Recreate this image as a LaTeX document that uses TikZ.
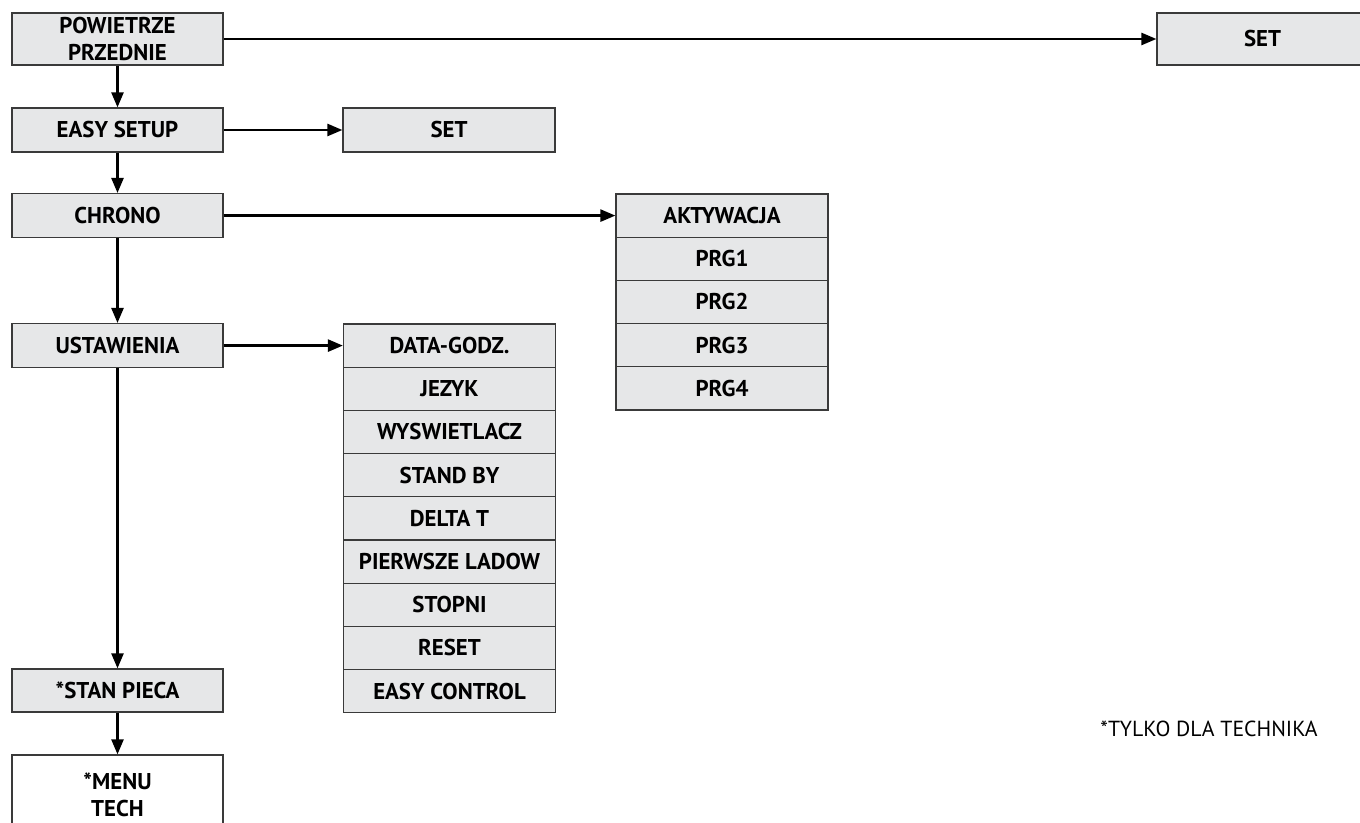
\documentclass[tikz,border=0pt]{standalone}
\usepackage{fontspec}
\setmainfont{PT Sans}
\usepackage{xcolor}
\usepackage{tikz}
\usetikzlibrary{shapes,arrows,calc}
\usetikzlibrary{arrows.meta}
\definecolor{boxgray}{HTML}{E6E7E8}
\definecolor{edgegray}{HTML}{3A3A3A}
\tikzstyle{tsBold} = [ 
    text=black, 
    font=\bfseries\fontsize{13}{15.2}\selectfont
]
\tikzstyle{tsWraptext} = [ 
    tsBold, 
    text centered, 
    align=center
]
\tikzstyle{tsRectangle} = [ 
    rectangle,
    tsWraptext,
    draw=edgegray,
    line width=0.7pt,
    inner sep=0pt]
\tikzstyle{tsMenu} = [ 
    tsRectangle,
    minimum width=4.22cm,
    fill=boxgray]
\tikzstyle{tsRow} = [ 
    tsRectangle,
    minimum width=4.24cm,
    minimum height=0.864cm,
    fill=boxgray]
\tikzstyle{tsArrow} = [ 
    line width=1.4pt,
    -{Triangle[length=0.3cm,width=0.24cm]}
]

\begin{document}
\begin{tikzpicture}
        
     	\useasboundingbox (0,0) rectangle (27.2,16.46);
     	
     	% left column
     	\node[ tsMenu, minimum height=1.04cm] (powietrze) at (2.35,15.68) {POWIETRZE\\PRZEDNIE};
     	\node[ tsMenu, minimum height=0.88cm] (easysetup) at (2.35,13.86) {EASY SETUP};
     	\node[ tsMenu, minimum height=0.88cm] (chrono) at (2.35,12.148) {CHRONO};
     	\node[ tsMenu, minimum height=0.88cm] (ustawienia) at (2.35,9.548) {USTAWIENIA};
     	\node[ tsMenu, minimum height=0.86cm] (stanpieca) at (2.35,2.65) {*STAN PIECA};
     	\node[ tsMenu, minimum height=1.6cm, fill=white] (menutech) at (2.35,0.56) {*MENU\\TECH};
     	
     	% set boxes
     	\node[ tsMenu, minimum height=1.04cm] (setpow) at (25.25,15.68) {SET};
     	\node[ tsMenu, minimum width=4.24cm, minimum height=0.88cm] (seteasy) at (8.98,13.86) {SET};
     	
     	% chrono list
     	\node[ tsRow] (aktywacja) at (14.44,12.148) {AKTYWACJA};
     	\node[ tsRow] (prg1) at (14.44,11.284) {PRG1};
     	\node[ tsRow] (prg2) at (14.44,10.420) {PRG2};
     	\node[ tsRow] (prg3) at (14.44,9.556) {PRG3};
     	\node[ tsRow] (prg4) at (14.44,8.692) {PRG4};
     	
     	% ustawienia list
     	\node[ tsRow] (datagodz) at (8.99,9.548) {DATA-GODZ.};
     	\node[ tsRow] (jezyk) at (8.99,8.684) {JEZYK};
     	\node[ tsRow] (wyswietlacz) at (8.99,7.820) {WYSWIETLACZ};
     	\node[ tsRow] (standby) at (8.99,6.956) {STAND BY};
     	\node[ tsRow] (deltat) at (8.99,6.092) {DELTA T};
     	\node[ tsRow] (pierwsze) at (8.99,5.228) {PIERWSZE LADOW};
     	\node[ tsRow] (stopni) at (8.99,4.364) {STOPNI};
     	\node[ tsRow] (reset) at (8.99,3.500) {RESET};
     	\node[ tsRow] (easycontrol) at (8.99,2.636) {EASY CONTROL};
     	
     	\node[ text=black, font=\fontsize{12.4}{14}\selectfont] (note) at (24.18,1.88) {*TYLKO DLA TECHNIKA};
     	
     	% arrows
     	\draw[tsArrow] (powietrze.south) -- (easysetup.north);
     	\draw[tsArrow] (easysetup.south) -- (chrono.north);
     	\draw[tsArrow] (chrono.south) -- (ustawienia.north);
     	\draw[tsArrow] (ustawienia.south) -- (stanpieca.north);
     	\draw[tsArrow] (stanpieca.south) -- (menutech.north);
     	\draw[tsArrow] (powietrze.east) -- (setpow.west);
     	\draw[tsArrow] (easysetup.east) -- (seteasy.west);
     	\draw[tsArrow] (chrono.east) -- (aktywacja.west);
     	\draw[tsArrow] (ustawienia.east) -- (datagodz.west);
         
\end{tikzpicture}
\end{document}
